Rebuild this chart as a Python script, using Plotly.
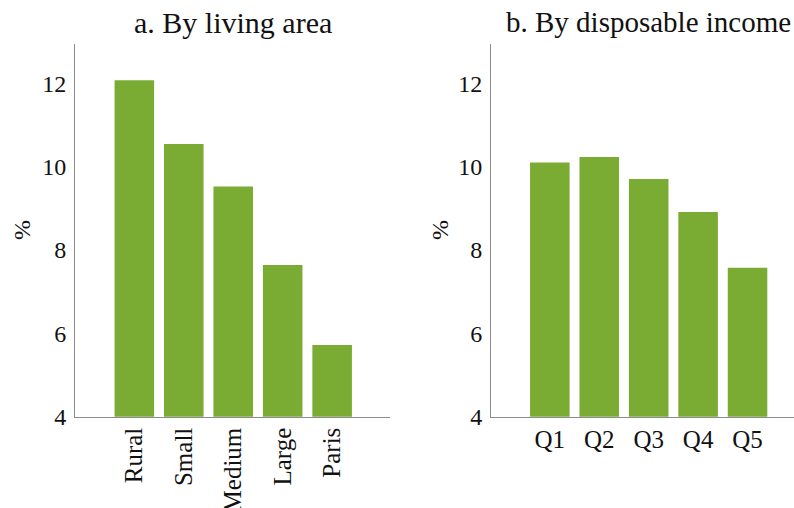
import plotly.graph_objects as go

# Data
areas = ["Rural", "Small", "Medium", "Large", "Paris"]
area_values = [12.07, 10.54, 9.52, 7.64, 5.72]
quintiles = ["Q1", "Q2", "Q3", "Q4", "Q5"]
quintile_values = [10.10, 10.23, 9.70, 8.91, 7.57]
y_ticks = [4, 6, 8, 10, 12]
titles = ["a. By living area", "b. By disposable income"]

W, H = 794, 508
BAR = "#7aab32"
AX = "#8c8c8c"
FONT = "Liberation Serif"

fig = go.Figure()
fig.add_trace(go.Bar(x=areas, y=area_values, marker=dict(color=BAR, line=dict(width=0)),
                     width=0.8, xaxis="x", yaxis="y", showlegend=False, hoverinfo="skip"))
fig.add_trace(go.Bar(x=quintiles, y=quintile_values, marker=dict(color=BAR, line=dict(width=0)),
                     width=0.8, xaxis="x2", yaxis="y2", showlegend=False, hoverinfo="skip"))

ydom = [(H - 416.7) / H, (H - 44) / H]
xd1 = [75 / W, 390 / W]
xd2 = [491 / W, 1.0]

yax = dict(range=[4, 12.94], tickvals=y_ticks, showgrid=False, zeroline=False,
           showline=True, linecolor=AX, linewidth=1, ticks="", ticklabelstandoff=3,
           automargin=False,
           tickfont=dict(family=FONT, size=24, color="#111"), domain=ydom)
xax = dict(showgrid=False, zeroline=False, showline=True, linecolor=AX, linewidth=1,
           ticks="", automargin=False, type="category")

fig.update_layout(
    width=W, height=H, margin=dict(l=0, r=0, t=0, b=0),
    plot_bgcolor="white", paper_bgcolor="white", bargap=0.2,
    xaxis=dict(xax, domain=xd1, range=[-1.2, 5.17], tickangle=-90, anchor="y",
               tickfont=dict(family=FONT, size=25, color="#111")),
    yaxis=dict(yax, anchor="x"),
    xaxis2=dict(xax, domain=xd2, range=[-1.19, 4.94], tickangle=0, anchor="y2",
                tickfont=dict(family=FONT, size=25, color="#111")),
    yaxis2=dict(yax, anchor="x2"),
    annotations=[
        dict(text=titles[0], x=233 / W, y=(H - 22) / H, xref="paper", yref="paper",
             showarrow=False, font=dict(family=FONT, size=30, color="#111"), xanchor="center", yanchor="middle"),
        dict(text=titles[1], x=648 / W, y=(H - 22) / H, xref="paper", yref="paper",
             showarrow=False, font=dict(family=FONT, size=29, color="#111"), xanchor="center", yanchor="middle"),
        dict(text="%", x=22 / W, y=(H - 230) / H, xref="paper", yref="paper", textangle=-90,
             showarrow=False, font=dict(family=FONT, size=24, color="#111"), xanchor="center", yanchor="middle"),
        dict(text="%", x=440 / W, y=(H - 230) / H, xref="paper", yref="paper", textangle=-90,
             showarrow=False, font=dict(family=FONT, size=24, color="#111"), xanchor="center", yanchor="middle"),
    ],
)

fig.write_html("out.html", config={"displayModeBar": False},
               post_script="document.body.style.margin='0';document.body.style.overflow='hidden';")
